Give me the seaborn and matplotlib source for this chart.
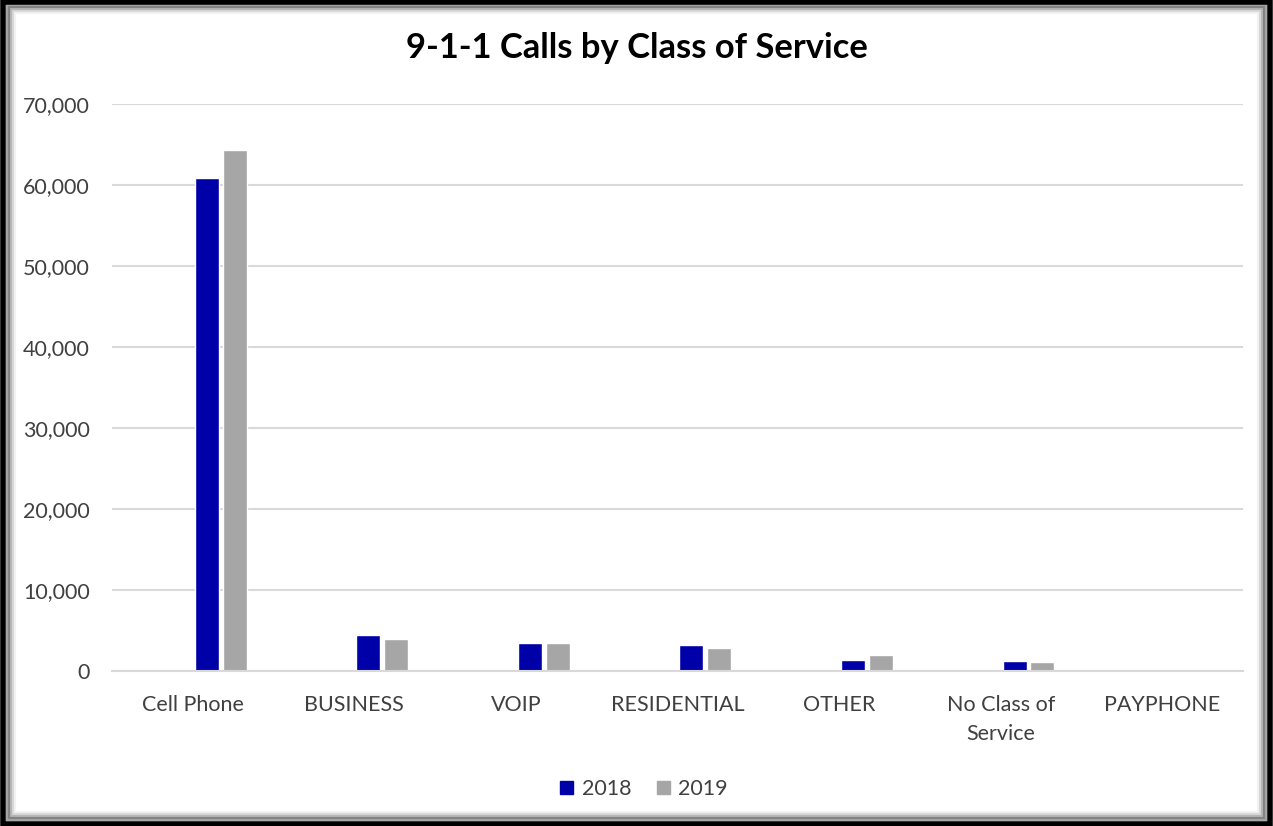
import numpy as np
import pandas as pd
import matplotlib
matplotlib.use("Agg")
import matplotlib.pyplot as plt
from matplotlib.patches import Rectangle
from matplotlib.ticker import FuncFormatter
import seaborn as sns

# data
categories = ["Cell Phone", "BUSINESS", "VOIP", "RESIDENTIAL", "OTHER",
              "No Class of\nService", "PAYPHONE"]
calls_2018 = [60900, 4450, 3500, 3170, 1400, 1200, 10]
calls_2019 = [64300, 3950, 3500, 2800, 1950, 1070, 8]
years = ["2018", "2019"]
colors = ["#0000A8", "#A6A6A6"]

df = pd.DataFrame({
    "category": categories * 2,
    "year": [years[0]] * len(categories) + [years[1]] * len(categories),
    "calls": calls_2018 + calls_2019,
})

sns.set_style("white")
plt.rcParams["font.family"] = ["Lato", "DejaVu Sans"]

fig = plt.figure(figsize=(12.73, 8.26), dpi=100)
ax = fig.add_axes([112 / 1273, 1 - 671 / 826, (1243 - 112) / 1273, (671 - 104) / 826])

# the original chart keeps two empty series slots, so the bars sit right of centre
hue_order = [" ", "  "] + years
sns.barplot(data=df, x="category", y="calls", hue="year", hue_order=hue_order,
            palette=dict(zip(hue_order, ["white", "white"] + colors)),
            width=0.69, gap=0.14, saturation=1, ax=ax, legend=False)

ax.set_ylim(0, 70000)
ax.set_yticks(np.arange(0, 70001, 10000))
ax.yaxis.set_major_formatter(FuncFormatter(lambda v, p: f"{int(v):,}"))
ax.grid(axis="y", color="#D9D9D9", linewidth=1.5)
ax.set_axisbelow(True)
for s in ["top", "right", "left"]:
    ax.spines[s].set_visible(False)
ax.spines["bottom"].set_color("#D9D9D9")
ax.spines["bottom"].set_linewidth(1.5)
ax.tick_params(axis="both", length=0, labelsize=15.5, colors="#404040")
ax.tick_params(axis="y", pad=16)
ax.tick_params(axis="x", pad=17)
for lab in ax.get_xticklabels():
    lab.set_linespacing(1.6)
ax.set_xlabel("")
ax.set_ylabel("")

fig.text(0.5, 1 - 48 / 826, "9-1-1 Calls by Class of Service",
         ha="center", va="center", fontsize=24.8, fontweight="bold", color="black")

handles = [Rectangle((0, 0), 1, 1, color=c) for c in colors]
leg = ax.legend(handles, years, loc="center",
                bbox_to_anchor=((644 - 112) / 1131, (671 - 789) / (671 - 104)),
                ncol=2, frameon=False, fontsize=15.5, handlelength=0.6,
                handleheight=0.6, columnspacing=1.2, handletextpad=0.4)
for t in leg.get_texts():
    t.set_color("#404040")

# frame with soft inner shadow
for i, a in enumerate([0.35, 0.2, 0.1, 0.05]):
    fig.add_artist(Rectangle((0.006 + i * 0.0016, 0.008 + i * 0.0024),
                             0.988 - i * 0.0032, 0.985 - i * 0.0048,
                             transform=fig.transFigure, fill=False,
                             edgecolor="black", alpha=a, linewidth=3))
fig.add_artist(Rectangle((0.002, 0.003), 0.996, 0.994, transform=fig.transFigure,
                         fill=False, edgecolor="black", linewidth=4))

fig.savefig("out.png", dpi=100)
